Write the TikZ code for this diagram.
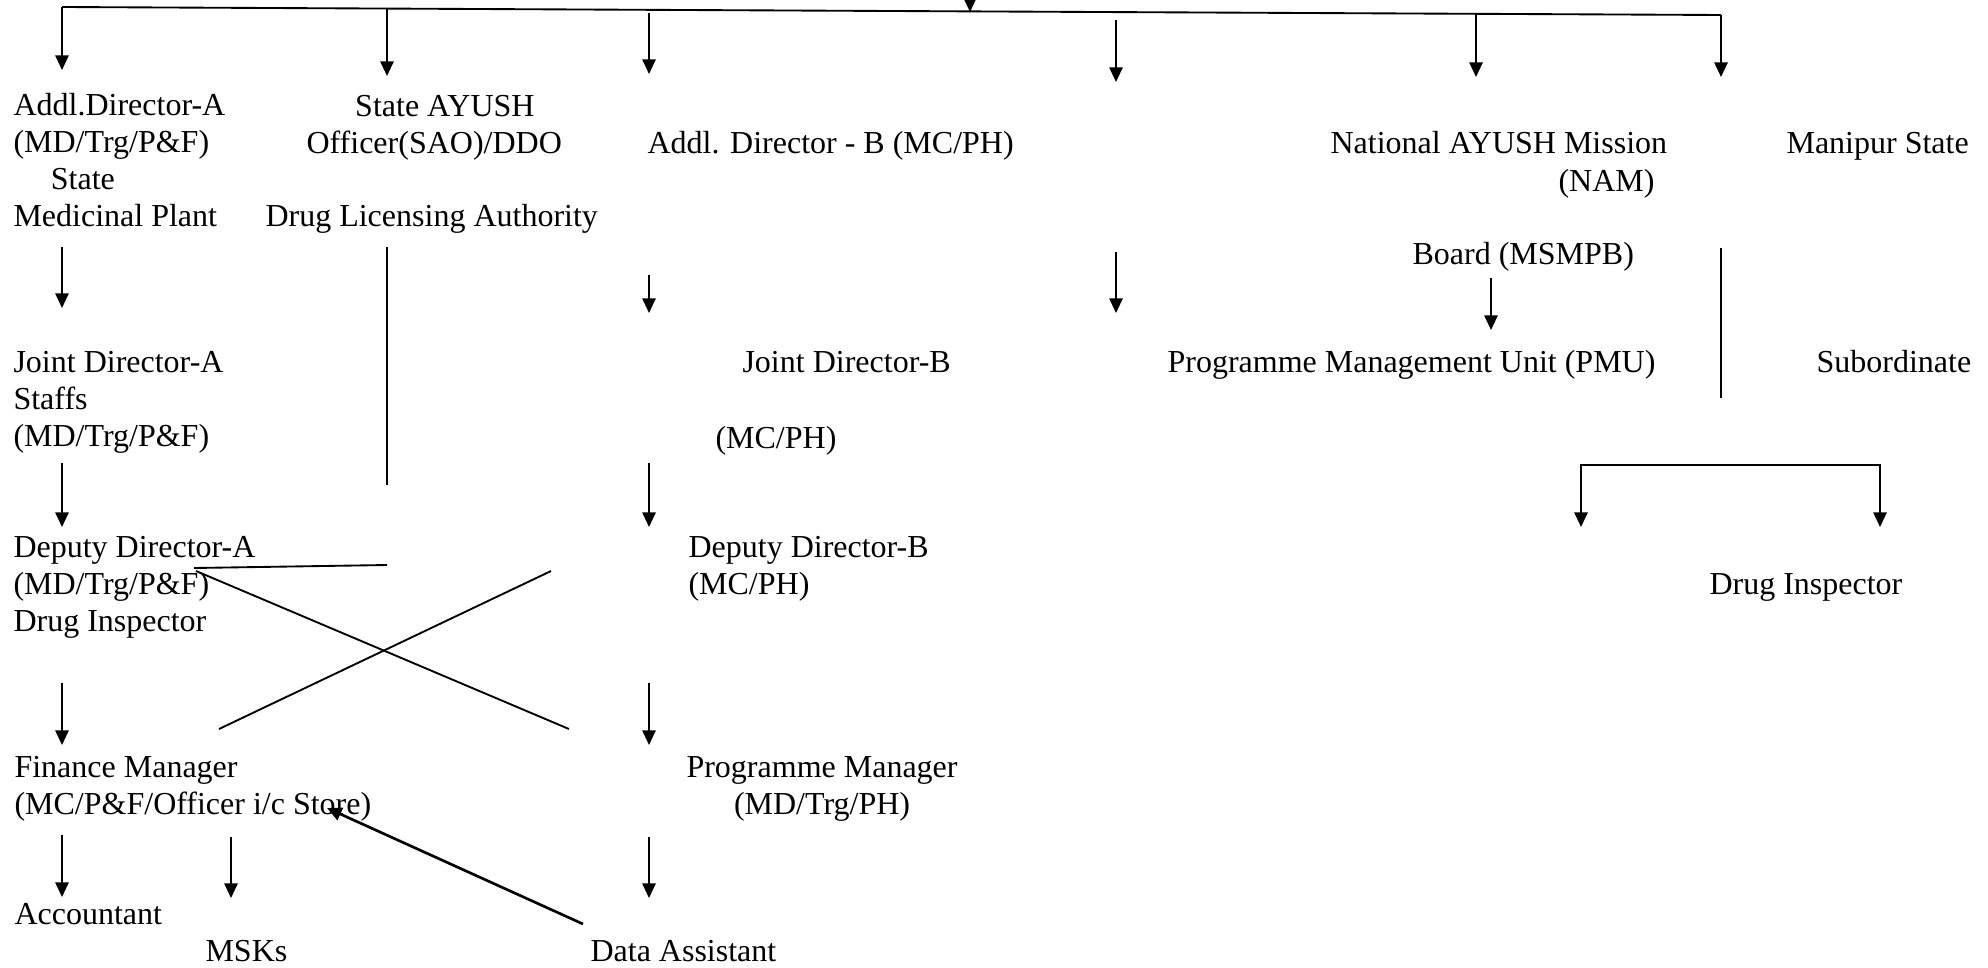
\documentclass[tikz,border=0pt]{standalone}
\usepackage{fontspec}
\setmainfont{Liberation Serif}
\usetikzlibrary{arrows.meta}
\tikzset{
    org-text/.style = {anchor=base west, inner sep=0pt, font=\fontsize{12pt}{13.8pt}\selectfont},
    link-line/.style = {line width=0.7pt},
    link-arrow/.style = {link-line, -{Triangle[length=5.5pt, width=5pt]}},
}

\begin{document}
\begin{tikzpicture}[x=0.375pt, y=-0.375pt]
\useasboundingbox (0,0) rectangle (1988,967);

% posts and offices (multi-line nodes sit on their last line)
\node[org-text, align=left] (addl-a) at (13,226) {Addl.Director-A\\(MD/Trg/P\&F)\\\hspace{14pt}State\\Medicinal Plant};
\node[org-text, align=center] (sao) at (306,153) {\hspace{8pt}State AYUSH\\Officer(SAO)/DDO};
\node[org-text] (licensing) at (265,226) {Drug Licensing Authority};
\node[org-text] (addl-b) at (647,153) {Addl. Director - B (MC/PH)};
\node[org-text] (nam) at (1330,153) {National AYUSH Mission};
\node[org-text] (nam-abbr) at (1558,191) {(NAM)};
\node[org-text] (manipur) at (1786,153) {Manipur State};
\node[org-text] (msmpb) at (1412,264) {Board (MSMPB)};
\node[org-text, align=left] (jd-a) at (13,446) {Joint Director-A\\Staffs\\(MD/Trg/P\&F)};
\node[org-text] (jd-b) at (742,372) {Joint Director-B};
\node[org-text] (jd-b-wing) at (715,448) {(MC/PH)};
\node[org-text] (pmu) at (1167,372) {Programme Management Unit (PMU)};
\node[org-text] (subordinate) at (1816,372) {Subordinate};
\node[org-text, align=left] (dd-a) at (13,631) {Deputy Director-A\\(MD/Trg/P\&F)\\Drug Inspector};
\node[org-text, align=left] (dd-b) at (688,594) {Deputy Director-B\\(MC/PH)};
\node[org-text] (drug-insp) at (1709,594) {Drug Inspector};
\node[org-text, align=left] (fin-mgr) at (14,814) {Finance Manager\\(MC/P\&F/Officer i/c Store)};
\node[org-text, align=center] (prog-mgr) at (686,814) {Programme Manager\\(MD/Trg/PH)};
\node[org-text] (accountant) at (14,924) {Accountant};
\node[org-text] (msks) at (205,961) {MSKs};
\node[org-text] (data-asst) at (590,961) {Data Assistant};

% top bus
\coordinate (bus-west) at (62,7);
\coordinate (bus-east) at (1721,15);
\draw[link-line] (bus-west) -- (bus-east);

% down arrows
\foreach \n/\x/\ya/\yb in {head/970/-12/12, top-1/62/7/70, top-2/387/9/76, top-3/649/13/74,
    top-4/1116/20/82, top-5/1476/14/77, top-6/1721/15/77,
    col-a1/62/247/308, col-a2/62/463/527, col-a3/62/683/745, col-a4/62/835/897,
    msk/231/837/898, col-b1/649/275/313, col-b2/649/463/527, col-b3/649/683/745,
    col-b4/649/837/898, col-c/1116/252/313, board/1491/278/330} {
    \coordinate (\n-from) at (\x,\ya);
    \coordinate (\n-to) at (\x,\yb);
    \draw[link-arrow] (\n-from) -- (\n-to);
}

% plain lines
\coordinate (sao-stem-top) at (387,247);
\coordinate (sao-stem-end) at (387,485);
\coordinate (sao-link-east) at (387,565);
\coordinate (sao-link-west) at (194,568);
\coordinate (manipur-stem-top) at (1721,248);
\coordinate (manipur-stem-end) at (1721,398);
\draw[link-line] (sao-stem-top) -- (sao-stem-end);
\draw[link-line] (sao-link-east) -- (sao-link-west);
\draw[link-line] (manipur-stem-top) -- (manipur-stem-end);

% crossing lines
\coordinate (cross-a-top) at (196,571);
\coordinate (cross-a-end) at (569,729);
\coordinate (cross-b-top) at (551,571);
\coordinate (cross-b-end) at (219,729);
\draw[link-line] (cross-a-top) -- (cross-a-end);
\draw[link-line] (cross-b-top) -- (cross-b-end);

% bracket under Manipur
\coordinate (fork-west) at (1581,465);
\coordinate (fork-east) at (1880,465);
\coordinate (fork-west-tip) at (1581,527);
\coordinate (fork-east-tip) at (1880,527);
\draw[link-arrow] (fork-east) -- (fork-west) -- (fork-west-tip);
\draw[link-arrow] (fork-west) -- (fork-east) -- (fork-east-tip);

% data assistant to finance
\coordinate (da-link) at (583,924);
\coordinate (fm-link) at (327,808);
\draw[link-arrow, line width=1pt] (da-link) -- (fm-link);
\end{tikzpicture}
\end{document}
